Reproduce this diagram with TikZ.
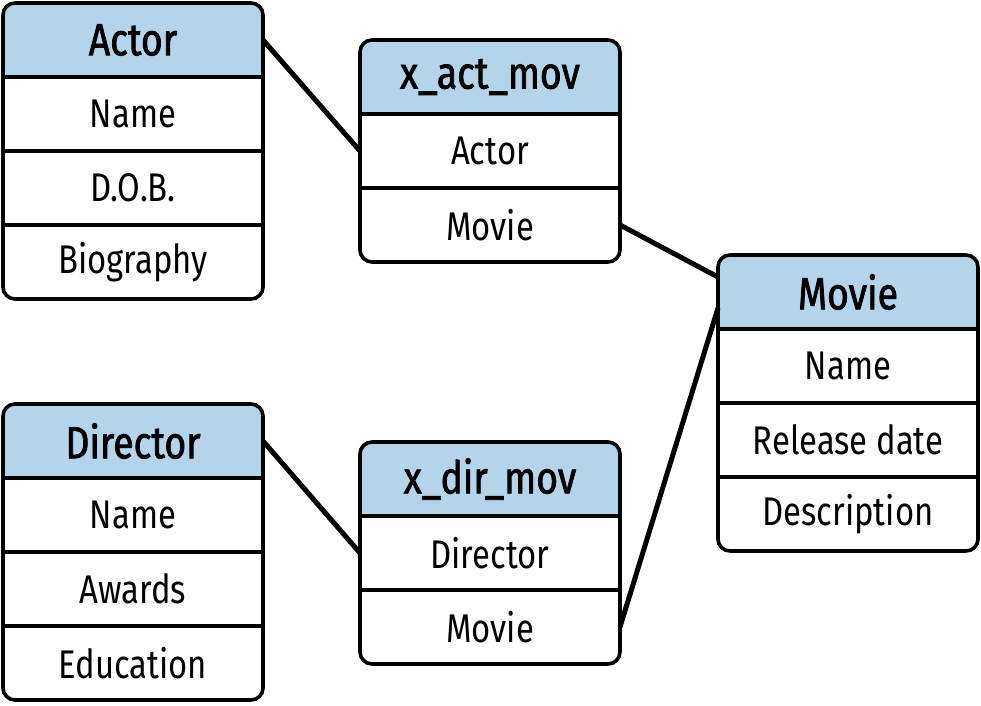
\documentclass[tikz,border=0pt]{standalone}
\usepackage{fontspec}
\setmainfont{Fira Sans}[FakeStretch=0.82]
\newfontfamily\headfont{Fira Sans}[FakeStretch=0.83, FakeBold=1.6]
\usetikzlibrary{positioning,backgrounds}
\definecolor{headblue}{RGB}{179,212,233}

\begin{document}
\begin{tikzpicture}[x=0.5pt, y=-0.5pt, node distance=0pt]
\tikzset{
  field/.style={minimum width=130pt, minimum height=37pt, inner sep=0pt, outer sep=0pt, font=\fontsize{20}{24}\selectfont},
  head/.style={field, font=\fontsize{22.5}{26}\selectfont\headfont},
  tablebox/.style={draw=black, line width=1.8pt, rounded corners=6pt},
  rule/.style={draw=black, line width=1.6pt},
  link/.style={draw=black, line width=2.5pt}
}
\useasboundingbox (0,0) rectangle (981,706);

% Actor
\node[head] (actor) at (133,40) {Actor};
\node[field, below=of actor] (actor-name) {Name};
\node[field, below=of actor-name] (actor-dob) {D.O.B.};
\node[field, below=of actor-dob] (actor-bio) {Biography};

% x_act_mov
\node[head] (xact) at (490,77) {x\_act\_mov};
\node[field, below=of xact] (xact-actor) {Actor};
\node[field, below=of xact-actor] (xact-movie) {Movie};

% Movie
\node[head] (movie) at (848,292) {Movie};
\node[field, below=of movie] (movie-name) {Name};
\node[field, below=of movie-name] (movie-date) {Release date};
\node[field, below=of movie-date] (movie-desc) {Description};

% Director
\node[head] (director) at (133,441) {Director};
\node[field, below=of director] (director-name) {Name};
\node[field, below=of director-name] (director-awards) {Awards};
\node[field, below=of director-awards] (director-edu) {Education};

% x_dir_mov
\node[head] (xdir) at (490,479) {x\_dir\_mov};
\node[field, below=of xdir] (xdir-director) {Director};
\node[field, below=of xdir-director] (xdir-movie) {Movie};

% header fills behind the text
\begin{pgfonlayer}{background}
\foreach \h in {actor, xact, movie, director, xdir}
  \fill[headblue] (\h.south west) [rounded corners=6pt] -- (\h.north west) -- (\h.north east) [sharp corners] -- (\h.south east) -- cycle;
\end{pgfonlayer}

% row rules and outlines
\foreach \r in {actor-name, actor-dob, actor-bio, xact-actor, xact-movie, movie-name, movie-date, movie-desc, director-name, director-awards, director-edu, xdir-director, xdir-movie}
  \draw[rule] (\r.north west) -- (\r.north east);
\foreach \h/\last in {actor/actor-bio, xact/xact-movie, movie/movie-desc, director/director-edu, xdir/xdir-movie}
  \draw[tablebox] (\h.north west) rectangle (\last.south east);

% links
\draw[link] (actor.east) -- (xact-actor.west);
\draw[link] (xact-movie.east) -- ([yshift=7.5pt]movie.west);
\draw[link] (director.east) -- (xdir-director.west);
\draw[link] (xdir-movie.east) -- ([yshift=-8pt]movie.west);
\end{tikzpicture}
\end{document}
